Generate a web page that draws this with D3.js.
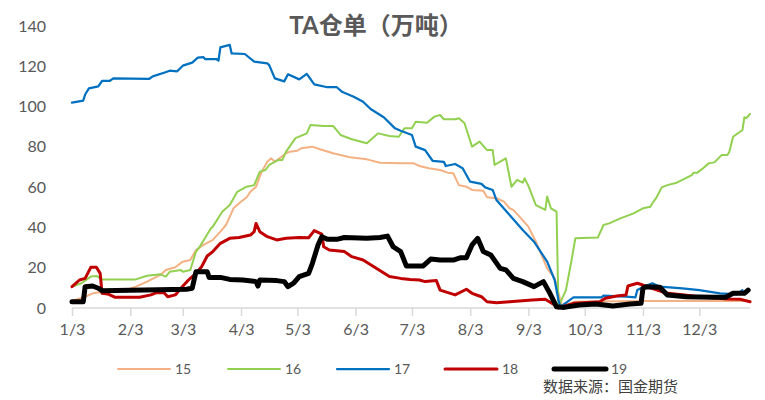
<!DOCTYPE html>
<html>
<head>
<meta charset="utf-8">
<script src="https://cdn.jsdelivr.net/npm/d3@7/dist/d3.min.js"></script>
<style>
  body { margin: 0; background: #fff; }
  text { font-family: Lato, "Noto Sans CJK SC", sans-serif; fill: #595959; }
</style>
</head>
<body>
<div id="chart"></div>
<script>
// series names and colours
var names = ["15", "16", "17", "18", "19"];

// [date, value] pairs (万吨)
var s15 = [["1/3",3.5],["1/10",5.6],["1/14",7.3],["1/20",8.1],["2/1",9],["2/6",10.6],["2/12",13.1],["2/19",16.4],["2/22",18.9],["2/27",20.2],["3/3",23],["3/7",23.8],["3/10",28.8],["3/14",31.3],["3/19",33.8],["3/23",37.9],["3/26",41.2],["3/30",49.5],["4/2",52],["4/6",55],["4/8",57.7],["4/11",60.2],["4/14",67.7],["4/17",72.6],["4/19",74.3],["4/21",72.6],["4/27",76.8],["4/29",77.6],["5/3",78.1],["5/5",79.3],["5/11",80.1],["5/15",78.8],["5/22",76.8],["5/31",74.8],["6/9",73.8],["6/16",72.1],["6/27",71.8],["7/4",71.8],["7/7",70.5],["7/12",69.4],["7/18",68.5],["7/22",67.2],["7/25",66.9],["7/28",61],["8/1",60.2],["8/4",58.6],["8/10",58.2],["8/12",55],["8/17",54.5],["8/21",52.8],["8/24",49.5],["8/26",48.7],["9/3",40.4],["9/7",32.9],["9/13",19.7],["9/17",14.7],["9/20",4],["9/21",1],["9/28",3.1],["11/3",3.5],["11/30",3.5],["12/30",3.5]];

var s16 = [["1/3",10.6],["1/8",12.3],["1/13",15.6],["1/16",15.9],["1/19",14.2],["2/6",14.2],["2/12",16],["2/19",16.7],["2/22",15.6],["2/24",18],["3/2",18.9],["3/3",18],["3/7",18.9],["3/10",28],["3/12",30.4],["3/18",39.6],["3/19",40.4],["3/24",47.8],["3/28",51.1],["4/1",57.7],["4/6",60.2],["4/10",61],["4/13",67.7],["4/16",68.5],["4/18",71],["4/23",73.5],["4/25",73.5],["4/27",77.6],["5/2",84.3],["5/8",86.7],["5/10",90.9],["5/17",90.4],["5/22",90.4],["5/26",85.9],["6/1",83.8],["6/9",81.8],["6/15",86.7],["6/21",85.4],["6/26",85],["6/29",89.2],["7/3",89.2],["7/5",92.5],["7/11",92],["7/15",95],["7/18",95.8],["7/20",93.7],["7/26",93.7],["7/28",94.2],["7/31",91.7],["8/2",85.9],["8/4",80.1],["8/8",82.6],["8/12",78.4],["8/15",78.4],["8/16",71],["8/22",74.3],["8/25",60.2],["8/28",63.6],["8/31",62.2],["9/1",64.4],["9/3",60.6],["9/7",51.1],["9/12",48.7],["9/13",55.3],["9/15",49.5],["9/18",47.8],["9/19",0.6],["9/23",8.9],["9/26",23.8],["9/28",34.6],["10/10",35],["10/13",41.2],["10/16",42],["10/22",44.5],["10/29",47],["11/3",49.5],["11/7",50.3],["11/8",52],["11/10",54.5],["11/13",59.9],["11/16",61],["11/21",62.2],["11/24",63.6],["11/29",66],["11/30",67.2],["12/2",67.2],["12/5",69.4],["12/8",71.8],["12/11",72.3],["12/15",76],["12/18",76],["12/19",77.6],["12/21",85],["12/26",88.4],["12/27",94.7],["12/28",94.2],["12/30",96.3]];

var s17 = [["1/3",102],["1/9",103],["1/10",106],["1/12",109],["1/17",110],["1/19",112.7],["1/23",112.7],["1/25",114],["2/13",113.7],["2/15",115],["2/21",116.8],["2/24",117.8],["2/28",117.5],["3/3",120.3],["3/8",121.8],["3/11",124.3],["3/14",124.5],["3/15",123.5],["3/21",123.5],["3/22",122.8],["3/23",129.4],["3/28",130.6],["3/29",126.4],["4/5",126.1],["4/10",122.3],["4/17",121.5],["4/18",120.6],["4/21",114],["4/26",112.5],["4/28",116],["5/4",113.5],["5/8",116.2],["5/12",111],["5/19",109.6],["5/24",109.6],["5/27",107.2],["6/2",104.9],["6/7",102.4],["6/11",98.8],["6/18",94.7],["6/24",89.2],["6/27",88],["7/3",85.9],["7/5",80.1],["7/10",78.4],["7/14",73.1],["7/20",72.6],["7/21",70.5],["7/26",71.5],["7/30",69.4],["8/3",62.7],["8/9",61.6],["8/11",59.9],["8/15",58.6],["8/17",53.6],["8/24",46.2],["8/31",38.7],["9/6",32.9],["9/13",23],["9/17",13.9],["9/19",4],["9/20",0.6],["9/27",5.3],["10/12",5.3],["10/13",6.1],["10/25",5.6],["10/30",5.3],["10/31",8.9],["11/3",10.3],["11/8",12.3],["11/12",10.6],["11/24",9.8],["12/3",8.9],["12/14",7.3],["12/23",6.8],["12/26",8.9]];

var s18 = [["1/3",10.6],["1/7",13.9],["1/10",14.7],["1/13",20.2],["1/16",20.2],["1/18",17.2],["1/19",7.3],["1/22",7],["1/26",5.3],["2/8",5.3],["2/14",6.5],["2/17",7.6],["2/21",7.6],["2/23",5.6],["2/27",6.5],["3/2",9.8],["3/6",13.9],["3/10",17.2],["3/13",20.5],["3/16",25.8],["3/19",28],["3/23",32.1],["3/28",34.6],["4/2",35],["4/8",36.2],["4/10",37.9],["4/11",42],["4/13",37.9],["4/17",35.4],["4/22",33.8],["4/27",34.6],["5/4",35],["5/9",34.9],["5/12",38.4],["5/16",36.7],["5/17",30.4],["5/20",28.8],["5/28",28],["6/1",25.5],["6/7",23.8],["6/14",19.7],["6/21",15.6],["6/27",14.7],["7/2",14.2],["7/7",13.9],["7/10",13.1],["7/16",13.6],["7/18",8.9],["7/26",6.5],["8/1",9.3],["8/4",7.3],["8/9",5.6],["8/12",3.1],["8/17",2.6],["8/24",3.1],["9/5",4],["9/12",4.3],["9/17",1.5],["9/19",0],["9/27",2.3],["10/11",3.1],["10/14",4.8],["10/20",6],["10/25",6.5],["10/26",10.9],["10/31",12.3],["11/3",11.4],["11/5",10.6],["11/15",7.5],["11/25",6.5],["12/3",5.6],["12/18",4.5],["12/25",4.3],["12/30",3.1]];

var s19 = [["1/3",3.1],["1/9",3.1],["1/10",10.6],["1/14",10.9],["1/17",9.8],["1/19",8.6],["3/5",9.3],["3/8",9.8],["3/10",18],["3/16",18],["3/17",15.2],["3/23",15.2],["3/28",14.2],["4/4",13.9],["4/11",13.1],["4/12",10.9],["4/13",13.9],["4/22",13.6],["4/26",13.1],["4/28",10.6],["5/1",12.3],["5/4",15.6],["5/9",17.2],["5/11",22.2],["5/14",31.3],["5/16",35.4],["5/19",34.1],["5/24",34.1],["5/28",35],["6/9",34.6],["6/16",35],["6/20",35.7],["6/23",30.4],["6/27",28],["6/30",20.9],["7/9",20.9],["7/13",24.3],["7/18",23.8],["7/25",23.8],["7/29",25],["8/1",25],["8/4",31.3],["8/7",34.6],["8/10",28],["8/14",26.3],["8/19",19.7],["8/22",18.9],["8/26",14.7],["8/31",13.1],["9/6",10.6],["9/11",13.1],["9/14",8.1],["9/18",0.6],["9/22",0.3],["9/30",1.5],["10/9",2],["10/18",1],["10/27",2],["11/2",2.3],["11/3",9.8],["11/5",10.6],["11/12",10.3],["11/16",6.5],["11/26",5.6],["12/10",5.3],["12/17",5.3],["12/21",7.3],["12/27",7.3],["12/29",8.9]];

var yTicks = [0, 20, 40, 60, 80, 100, 120, 140];
var monthTicks = ["1/3","2/3","3/3","4/3","5/3","6/3","7/3","8/3","9/3","10/3","11/3","12/3"];

var W = 765, H = 400;
var parse = d3.timeParse("%Y/%m/%d");
var toDate = function(s){ return parse("2019/" + s); };

var svg = d3.select("#chart").append("svg")
  .attr("width", W)
  .attr("height", H);

var x = d3.scaleTime()
  .domain([toDate("1/3"), toDate("12/30")])
  .range([72, 750]);
var y = d3.scaleLinear()
  .domain([0, 140])
  .range([308, 26]);

// title
svg.append("text")
  .attr("x", 376).attr("y", 34)
  .attr("text-anchor", "middle")
  .style("font-size", "24px")
  .style("font-weight", "bold")
  .text("TA仓单（万吨）");

// y axis labels (no axis line)
var yAxis = svg.append("g")
  .attr("transform", "translate(46,0)")
  .call(d3.axisLeft(y).tickValues(yTicks).tickSize(0).tickPadding(0));
yAxis.select(".domain").remove();
yAxis.selectAll("text")
  .style("font-size", "16px")
  .style("font-family", "Lato, sans-serif")
  .attr("fill", "#595959");

// x axis
var xAxis = svg.append("g")
  .attr("transform", "translate(0,308)")
  .call(d3.axisBottom(x)
    .tickValues(monthTicks.map(toDate))
    .tickFormat(d3.timeFormat("%-m/%-d"))
    .tickSize(8)
    .tickPadding(8))
xAxis.select(".domain").attr("stroke", "#d9d9d9").attr("stroke-width", 1.5)
  .attr("d", "M72,0H750");
xAxis.selectAll(".tick line").attr("stroke", "#d9d9d9").attr("stroke-width", 1.5);
xAxis.selectAll("text")
  .style("font-size", "16px")
  .style("font-family", "Lato, sans-serif")
  .attr("fill", "#595959");

// lines
var series = [
  {name: "15", data: s15, color: "#F4B183", width: 2},
  {name: "16", data: s16, color: "#92D050", width: 2},
  {name: "17", data: s17, color: "#0070C0", width: 2.25},
  {name: "18", data: s18, color: "#C00000", width: 3},
  {name: "19", data: s19, color: "#000000", width: 5}
];

var line = d3.line()
  .x(function(d){ return x(toDate(d[0])); })
  .y(function(d){ return y(d[1]); });

svg.selectAll(".series")
  .data(series)
  .enter().append("path")
  .attr("class", "series")
  .attr("d", function(d){ return line(d.data); })
  .attr("fill", "none")
  .attr("stroke", function(d){ return d.color; })
  .attr("stroke-width", function(d){ return d.width; })
  .attr("stroke-linejoin", "round")
  .attr("stroke-linecap", "round");

// legend
var legendX = [118, 228, 337, 445, 554];
var legend = svg.selectAll(".legendItem")
  .data(series)
  .enter().append("g")
  .attr("class", "legendItem")
  .attr("transform", function(d, i){ return "translate(" + legendX[i] + ",369)"; });
legend.append("line")
  .attr("x1", 0).attr("x2", 52)
  .attr("stroke", function(d){ return d.color; })
  .attr("stroke-width", function(d){ return d.width; })
  .attr("stroke-linecap", "round");
legend.append("text")
  .attr("x", 57).attr("y", 5)
  .style("font-size", "14px")
  .text(function(d){ return d.name; });

// source note
svg.append("text")
  .attr("x", 543).attr("y", 392)
  .style("font-size", "15px")
  .style("fill", "#404040")
  .text("数据来源：国金期货");
</script>
</body>
</html>
